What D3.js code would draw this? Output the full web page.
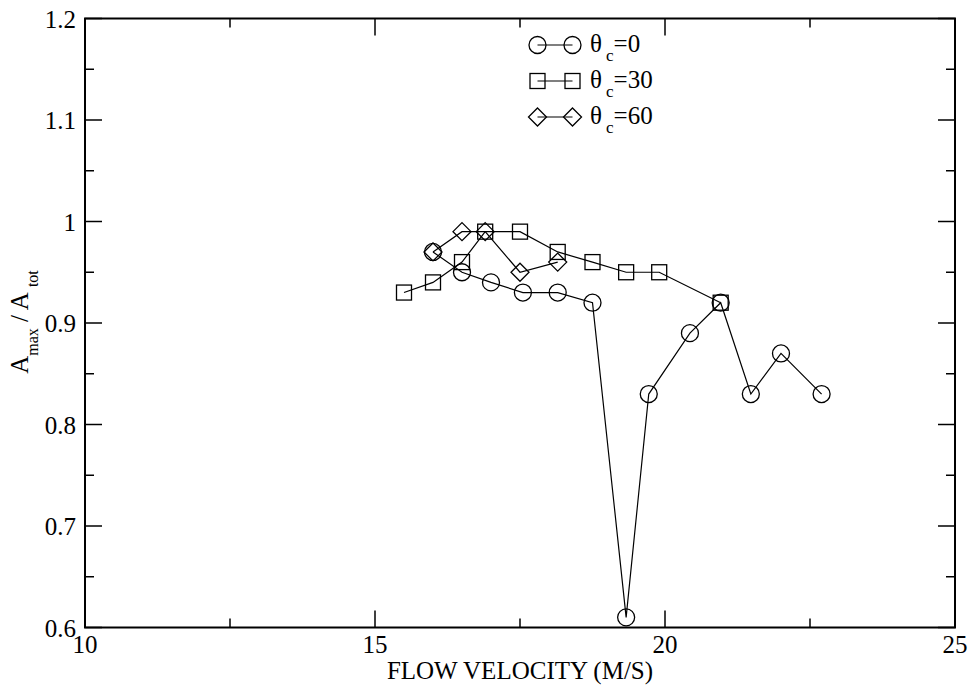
<!DOCTYPE html>
<html><head>
<script src="https://cdn.jsdelivr.net/npm/d3@7"></script>
</head><body style="margin:0;background:#fff"><svg id="c" width="972" height="691" style="display:block"></svg>
<script>
const xTicks = [10, 15, 20, 25];
const xMinor = [12.5, 17.5, 22.5];
const yTicks = [0.6, 0.7, 0.8, 0.9, 1.0, 1.1, 1.2];
const yMinor = [0.65, 0.75, 0.85, 0.95, 1.05, 1.15];
const yTickLabels = ["0.6", "0.7", "0.8", "0.9", "1", "1.1", "1.2"];

const s0x = [16.0, 16.5, 17.0, 17.55, 18.15, 18.75, 19.33, 19.72, 20.43, 20.96, 21.48, 22.0, 22.7];
const s0y = [0.97, 0.95, 0.94, 0.93, 0.93, 0.92, 0.61, 0.83, 0.89, 0.92, 0.83, 0.87, 0.83];
const s30x = [15.5, 16.0, 16.5, 16.9, 17.5, 18.15, 18.75, 19.33, 19.9, 20.96];
const s30y = [0.93, 0.94, 0.96, 0.99, 0.99, 0.97, 0.96, 0.95, 0.95, 0.92];
const s60x = [16.0, 16.5, 16.9, 17.5, 18.15];
const s60y = [0.97, 0.99, 0.99, 0.95, 0.96];
const seriesNames = ["0", "30", "60"];
const seriesSymbols = ["circle", "square", "diamond"];

const svg = d3.select("#c");
const L = 85, R = 955, T = 18.5, B = 627.5;
const x = d3.scaleLinear().domain([10, 25]).range([L, R]);
const y = d3.scaleLinear().domain([0.6, 1.2]).range([B, T]);

const g = svg.append("g");
function txt(sel, size) {
  return sel.append("text").attr("style", "font-family:'Times New Roman','Liberation Serif',serif;font-size:" + size + "px;fill:#000");
}

const maj = 17, mnr = 9;
function tickLines(vals, len) {
  vals.forEach(v => {
    g.append("line").attr("x1", x(v)).attr("x2", x(v)).attr("y1", B).attr("y2", B - len).attr("stroke", "#000").attr("stroke-width", 1.5);
    g.append("line").attr("x1", x(v)).attr("x2", x(v)).attr("y1", T).attr("y2", T + len).attr("stroke", "#000").attr("stroke-width", 1.5);
  });
}
function tickLinesY(vals, len) {
  vals.forEach(v => {
    g.append("line").attr("y1", y(v)).attr("y2", y(v)).attr("x1", L).attr("x2", L + len).attr("stroke", "#000").attr("stroke-width", 1.5);
    g.append("line").attr("y1", y(v)).attr("y2", y(v)).attr("x1", R).attr("x2", R - len).attr("stroke", "#000").attr("stroke-width", 1.5);
  });
}
tickLines(xTicks, maj); tickLines(xMinor, mnr);
tickLinesY(yTicks, maj); tickLinesY(yMinor, mnr);

g.append("rect").attr("x", L).attr("y", T).attr("width", R - L).attr("height", B - T)
  .attr("fill", "none").attr("stroke", "#000").attr("stroke-width", 2);

xTicks.forEach(v => {
  txt(g, 25).attr("x", x(v)).attr("y", 653).attr("text-anchor", "middle").text(String(v));
});
yTicks.forEach((v, i) => {
  txt(g, 25).attr("x", 76).attr("y", y(v) + 9).attr("text-anchor", "end").text(yTickLabels[i]);
});

txt(g, 25).attr("x", 520).attr("y", 679).attr("text-anchor", "middle").text("FLOW VELOCITY (M/S)");
const yl = txt(g, 25).attr("transform", "translate(28,322) rotate(-90)").attr("text-anchor", "middle");
yl.append("tspan").text("A");
yl.append("tspan").attr("dy", 10).attr("style", "font-size:16px").text("max");
yl.append("tspan").attr("dy", -10).text(" / A");
yl.append("tspan").attr("dy", 10).attr("dx", 5).attr("style", "font-size:16px").text("tot");

function sym(sel, type, cx, cy) {
  if (type === "circle") sel.append("circle").attr("cx", cx).attr("cy", cy).attr("r", 8.5);
  else if (type === "square") sel.append("rect").attr("x", cx - 7.5).attr("y", cy - 7.5).attr("width", 15).attr("height", 15);
  else sel.append("path").attr("d", `M${cx},${cy - 9}L${cx + 9},${cy}L${cx},${cy + 9}L${cx - 9},${cy}Z`);
}

const series = [[s0x, s0y], [s30x, s30y], [s60x, s60y]];
const line = d3.line().x(d => x(d[0])).y(d => y(d[1]));
series.forEach((s, k) => {
  const pts = s[0].map((v, i) => [v, s[1][i]]);
  g.append("path").attr("d", line(pts)).attr("fill", "none").attr("stroke", "#000").attr("stroke-width", 1.2);
  const sg = g.append("g").attr("fill", "none").attr("stroke", "#000").attr("stroke-width", 1.3);
  pts.forEach(p => sym(sg, seriesSymbols[k], x(p[0]), y(p[1])));
});

const legY = [45, 81, 117];
seriesNames.forEach((n, k) => {
  const ly = legY[k];
  g.append("line").attr("x1", 537.5).attr("x2", 572.5).attr("y1", ly).attr("y2", ly).attr("stroke", "#000").attr("stroke-width", 1.2);
  const sg = g.append("g").attr("fill", "none").attr("stroke", "#000").attr("stroke-width", 1.3);
  sym(sg, seriesSymbols[k], 537.5, ly);
  sym(sg, seriesSymbols[k], 572.5, ly);
  const t = txt(g, 25).attr("x", 590).attr("y", ly + 7);
  t.append("tspan").text("θ");
  t.append("tspan").attr("dx", 4).attr("dy", 9).attr("style", "font-size:17px").text("c");
  t.append("tspan").attr("dy", -9).text("=" + n);
});
</script></body></html>
